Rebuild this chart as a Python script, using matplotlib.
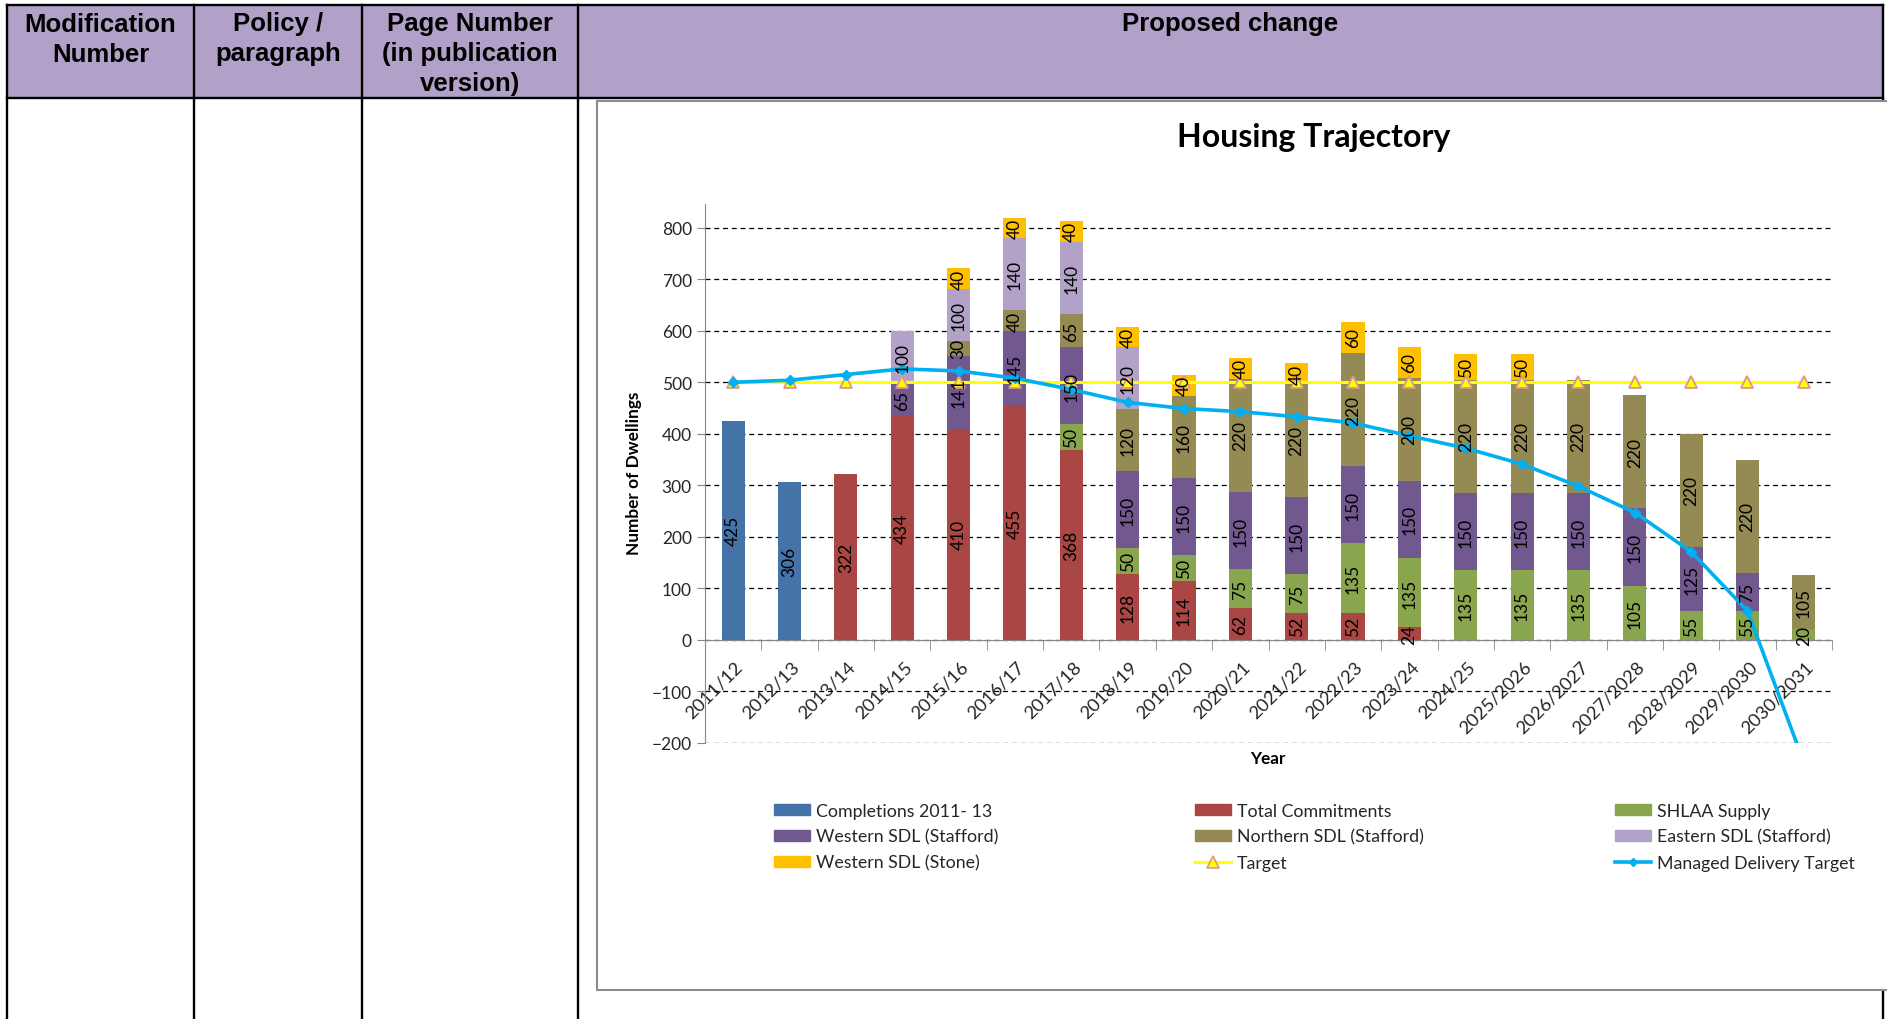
import matplotlib
matplotlib.use('Agg')
import matplotlib.pyplot as plt
from matplotlib.patches import Rectangle
from matplotlib.lines import Line2D
from matplotlib import font_manager
import matplotlib.transforms as mtransforms
import numpy as np

# ---------------- data ----------------
years = ["2011/12", "2012/13", "2013/14", "2014/15", "2015/16", "2016/17", "2017/18",
         "2018/19", "2019/20", "2020/21", "2021/22", "2022/23", "2023/24", "2024/25",
         "2025/2026", "2026/2027", "2027/2028", "2028/2029", "2029/2030", "2030/2031"]
completions = [425, 306, 0, 0, 0, 0, 0, 0, 0, 0, 0, 0, 0, 0, 0, 0, 0, 0, 0, 0]
commitments = [0, 0, 322, 434, 410, 455, 368, 128, 114, 62, 52, 52, 24, 0, 0, 0, 0, 0, 0, 0]
shlaa = [0, 0, 0, 0, 0, 0, 50, 50, 50, 75, 75, 135, 135, 135, 135, 135, 105, 55, 55, 20]
western_stafford = [0, 0, 0, 65, 141, 145, 150, 150, 150, 150, 150, 150, 150, 150, 150, 150, 150, 125, 75, 0]
northern_stafford = [0, 0, 0, 0, 30, 40, 65, 120, 160, 220, 220, 220, 200, 220, 220, 220, 220, 220, 220, 105]
eastern_stafford = [0, 0, 0, 100, 100, 140, 140, 120, 0, 0, 0, 0, 0, 0, 0, 0, 0, 0, 0, 0]
western_stone = [0, 0, 0, 0, 40, 40, 40, 40, 40, 40, 40, 60, 60, 50, 50, 0, 0, 0, 0, 0]
target = [500] * 20
managed = [500, 504, 515, 526, 522, 508, 486, 461, 449, 443, 433, 421, 396, 372, 341, 298, 247, 171, 56, -238]

series_names = ["Completions 2011- 13", "Total Commitments", "SHLAA Supply",
                "Western SDL (Stafford)", "Northern SDL (Stafford)", "Eastern SDL (Stafford)",
                "Western SDL (Stone)"]
series_values = [completions, commitments, shlaa, western_stafford, northern_stafford,
                 eastern_stafford, western_stone]
series_colors = ["#4572A7", "#AA4643", "#89A54E", "#71588F", "#948A54", "#B3A2C7", "#FFC000"]

header_labels = [["Modification", "Number"], ["Policy /", "paragraph"],
                 ["Page Number", "(in publication", "version)"], ["Proposed change"]]

# ---------------- figure ----------------
W, H = 1887, 1020
plt.rcParams['font.family'] = ['Lato', 'DejaVu Sans']
fig = plt.figure(figsize=(W / 100, H / 100), dpi=100)


def fx(x):
    return x / W


def fy(y):
    return 1 - y / H


# table
fig.add_artist(Rectangle((fx(7), fy(99)), fx(1883) - fx(7), fy(6) - fy(99),
                         transform=fig.transFigure, facecolor='#B1A0C7',
                         edgecolor='none', zorder=-3))
blk = dict(transform=fig.transFigure, color='black', lw=1.7, zorder=-2)
fig.add_artist(Line2D([fx(7), fx(1883)], [fy(6), fy(6)], **blk))
fig.add_artist(Line2D([fx(7), fx(1883)], [fy(99), fy(99)], **blk))
for xv in [7, 194, 362, 578, 1883]:
    fig.add_artist(Line2D([fx(xv), fx(xv)], [fy(6), fy(1020)], **blk))

names = {f.name for f in font_manager.fontManager.ttflist}
if 'Liberation Sans Narrow' in names:
    hfam, hsize = ['Liberation Sans Narrow', 'Liberation Sans'], 22.5
else:
    hfam, hsize = ['Liberation Sans', 'DejaVu Sans'], 18.5
col_centers = [100.5, 278, 470, 1230]
for cx, lines in zip(col_centers, header_labels):
    for i, t in enumerate(lines):
        fig.text(fx(cx), fy(24.5 + 30 * i), t, ha='center', va='center',
                 fontsize=hsize, fontweight='bold', family=hfam, color='black')

# chart frame
fig.add_artist(Rectangle((fx(597), fy(991)), 1.2, fy(102) - fy(991),
                         transform=fig.transFigure, facecolor='white',
                         edgecolor='#8C8C8C', lw=1.5, zorder=-1))

# axes
ymin, ymax = -200, 847
ax = fig.add_axes([fx(705), fy(743.7), fx(1832) - fx(705), fy(204.6) - fy(743.7)])
ax.set_facecolor('none')
ax.set_xlim(-0.5, 19.5)
ax.set_ylim(ymin, ymax)

x = np.arange(len(years))
bw = 0.41
bottom = np.zeros(len(years))
for name, vals, col in zip(series_names, series_values, series_colors):
    vals = np.array(vals, dtype=float)
    ax.bar(x, vals, bw, bottom=bottom, color=col, label=name, zorder=2)
    for xi, v, b in zip(x, vals, bottom):
        if v > 0:
            ax.text(xi, b + v / 2, f"{int(v)}", rotation=90, ha='center', va='center',
                    fontsize=12.5, color='black', zorder=6)
    bottom = bottom + vals

ax.plot(x, target, color='#FFFF00', lw=2.2, marker='^', ms=9, mfc='#FFFF00',
        mec='#D99694', mew=1.3, zorder=4)
ax.plot(x, managed, color='#00B0F0', lw=2.6, marker='D', ms=5, mfc='#00B0F0',
        mec='#00B0F0', zorder=5)

# axes styling
for s in ['top', 'right']:
    ax.spines[s].set_visible(False)
ax.spines['left'].set_color('#868686')
ax.spines['bottom'].set_color('#868686')
ax.spines['bottom'].set_position(('data', 0))
ax.spines['bottom'].set_zorder(3)

ax.set_yticks(range(-200, 801, 100))
ax.yaxis.grid(True, linestyle=(0, (4, 3)), color='black', lw=0.9)
ax.set_axisbelow(True)
ax.tick_params(axis='y', labelsize=12.5, colors='#868686', length=6, labelcolor='#262626')

ax.set_xticks(x)
ax.set_xticklabels(years, rotation=45, ha='right', va='center', rotation_mode='anchor',
                   fontsize=13.3, color='#262626')
ax.tick_params(axis='x', which='major', length=0, pad=17)
ax.set_xticks(np.arange(-0.5, 20, 1), minor=True)
ax.tick_params(axis='x', which='minor', length=7, color='#868686', direction='out')
offset = mtransforms.ScaledTranslation(7 / 100, 0, fig.dpi_scale_trans)
for lbl in ax.get_xticklabels():
    lbl.set_transform(lbl.get_transform() + offset)

# titles
fig.text(fx(1314), fy(137), 'Housing Trajectory', ha='center', va='center',
         fontsize=23, fontweight='bold', color='black')
fig.text(fx(634), fy(473), 'Number of Dwellings', ha='center', va='center',
         rotation=90, fontsize=12.4, fontweight='bold', color='black')
fig.text(fx(1268), fy(759), 'Year', ha='center', va='center',
         fontsize=12.4, fontweight='bold', color='black')

# legend (3 columns, row-major order as in the reference)
patches = [Rectangle((0, 0), 1, 1, color=c) for c in series_colors]
h_target = Line2D([], [], color='#FFFF00', lw=2.2, marker='^', ms=8, mfc='#FFFF00',
                  mec='#D99694', mew=1.2)
h_managed = Line2D([], [], color='#00B0F0', lw=2.6, marker='D', ms=4, mfc='#00B0F0')
columns = [
    ([patches[0], patches[3], patches[6]], [series_names[0], series_names[3], series_names[6]], 774),
    ([patches[1], patches[4], h_target], [series_names[1], series_names[4], 'Target'], 1195),
    ([patches[2], patches[5], h_managed], [series_names[2], series_names[5], 'Managed Delivery Target'], 1615),
]
for hs, ls, lx in columns:
    fig.legend(hs, ls, loc='upper left', bbox_to_anchor=(fx(lx), fy(804)),
               frameon=False, fontsize=12.8, handlelength=2.05, handleheight=0.55,
               handletextpad=0.32, labelspacing=0.55, borderpad=0, borderaxespad=0,
               labelcolor='#262626')

fig.savefig('out.png', dpi=100)
